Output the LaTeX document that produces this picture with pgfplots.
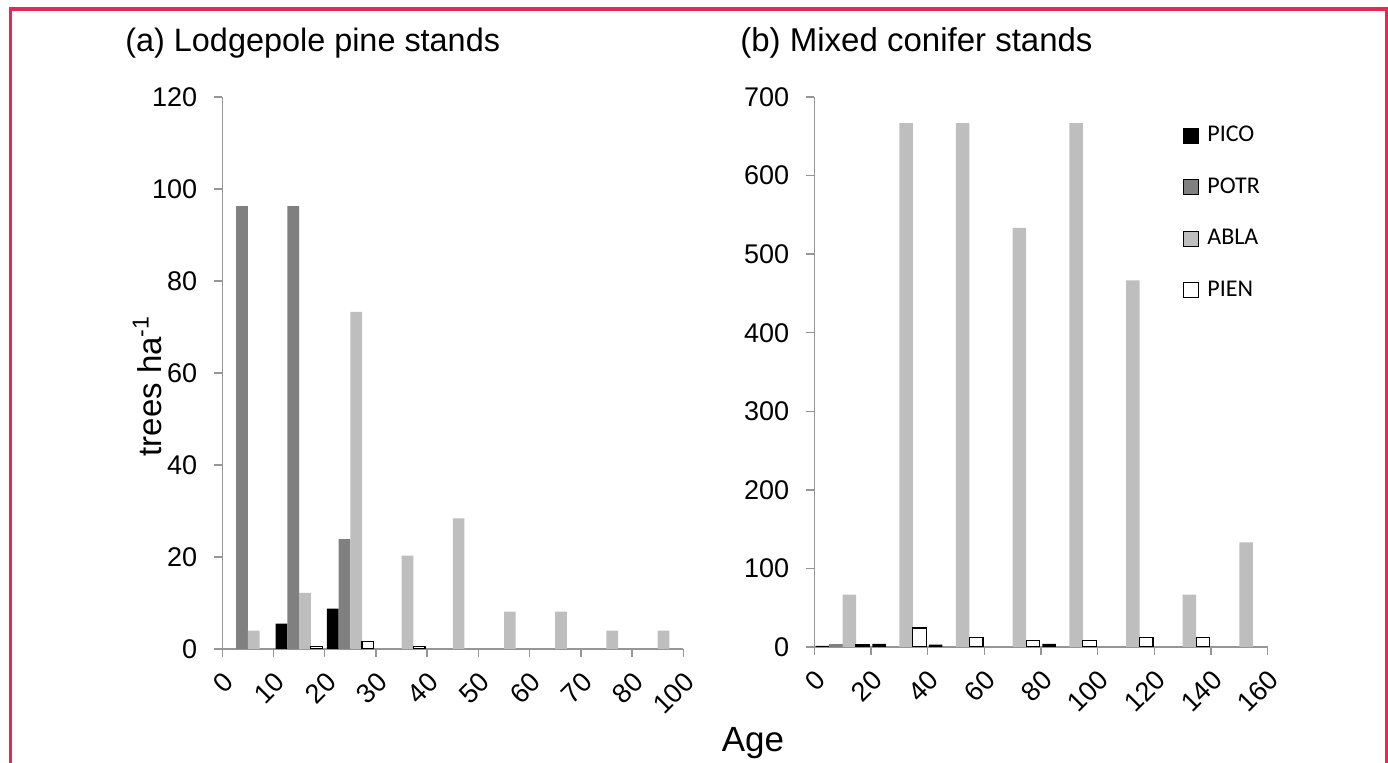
\documentclass[border=0pt]{standalone}
\usepackage{pgfplots}
\pgfplotsset{compat=1.18}
\usepackage{fontspec}
\setmainfont{Liberation Sans}
\newfontfamily\carlito{Carlito}
\definecolor{frame}{RGB}{230,40,85}
\definecolor{axgray}{RGB}{150,150,150}
\definecolor{potr}{RGB}{128,128,128}
\definecolor{abla}{RGB}{190,190,190}
\pgfplotsset{
  mybars/.style={
    scale only axis,
    anchor=south west,
    axis x line*=bottom, axis y line*=left,
    axis line style={axgray, line width=0.7pt, -},
    tick style={axgray, line width=0.7pt},
    tick align=outside,
    major tick length=4pt,
    minor tick num=0,
    ybar=0pt,
    enlargelimits=false,
    ymin=0, xmin=0,
    /pgf/number format/assume math mode=true,
    tick label style={font=\fontsize{13.5}{16}\selectfont, text=black},
    xticklabel style={rotate=45, anchor=east, xshift=-1.5pt, yshift=-9.5pt},
    yticklabel style={xshift=-5pt},
  },
  sq/.style={legend image code/.code={\draw[##1] (0pt,-3.75pt) rectangle (7.5pt,3.75pt);}},
}
\begin{document}
\begin{tikzpicture}
\useasboundingbox (0,0) rectangle (694pt,-381.5pt);
\draw[frame, line width=1.7pt] (5.25pt,-4.5pt) rectangle (693.5pt,-400pt);

\node[anchor=base west, inner sep=0pt, font=\fontsize{16.2}{19}\selectfont] at (62.5pt,-26pt) {(a) Lodgepole pine stands};
\node[anchor=base west, inner sep=0pt, font=\fontsize{16.5}{19}\selectfont] at (370pt,-26pt) {(b) Mixed conifer stands};
\node[rotate=90, font=\fontsize{16.5}{20}\selectfont] at (73.5pt,-193pt) {trees ha\textsuperscript{-1}};
\node[anchor=base, font=\fontsize{17.5}{21}\selectfont] at (376.5pt,-376pt) {Age};

\begin{axis}[mybars, at={(111.15pt,-324.5pt)}, width=230.5pt, height=276pt,
  xmax=9, ymax=120, ytick={0,20,...,120},
  xtick={0,...,9}, xticklabels={0,10,20,30,40,50,60,70,80,100},
  bar width=5.85pt]
\addplot[fill=black, draw=none] coordinates {(1.5,5.5) (2.5,8.8)};
\addplot[fill=potr, draw=none] coordinates {(0.5,96.3) (1.5,96.3) (2.5,23.9)};
\addplot[fill=abla, draw=none] coordinates {(0.5,4.0) (1.5,12.2) (2.5,73.3) (3.5,20.3) (4.5,28.4) (5.5,8.1) (6.5,8.1) (7.5,4.0) (8.5,4.0)};
\addplot[fill=white, draw=black, line width=0.65pt] coordinates {(1.5,0.5) (2.5,1.6) (3.5,0.5)};
\end{axis}

\begin{axis}[mybars, at={(407.15pt,-323.5pt)}, width=226.7pt, height=275pt,
  xmax=8, ymax=700, ytick={0,100,...,700},
  xtick={0,...,8}, xticklabels={0,20,40,60,80,100,120,140,160},
  bar width=6.75pt,
  legend style={draw=none, fill=none, at={(axis description cs:0.8125,0.955)}, anchor=north west,
    inner sep=0pt, row sep=12.5pt, font=\carlito\fontsize{12}{14}\selectfont,
    nodes={inner xsep=4pt}},
  legend cell align=left]
\addplot[fill=black, draw=none, sq] coordinates {(0.5,1.3) (1.5,4) (2.5,3) (4.5,4)};
\addplot[fill=potr, draw=none, sq] coordinates {(0.5,3.5)};
\addplot[fill=abla, draw=none, sq] coordinates {(0.5,66.7) (1.5,666.7) (2.5,666.7) (3.5,533.3) (4.5,666.7) (5.5,466.7) (6.5,66.7) (7.5,133.3)};
\addplot[fill=white, draw=black, line width=0.65pt, sq] coordinates {(0.5,2.7) (1.5,24) (2.5,12) (3.5,8) (4.5,8) (5.5,12) (6.5,12)};
\legend{PICO,POTR,ABLA,PIEN}
\end{axis}
\end{tikzpicture}
\end{document}
